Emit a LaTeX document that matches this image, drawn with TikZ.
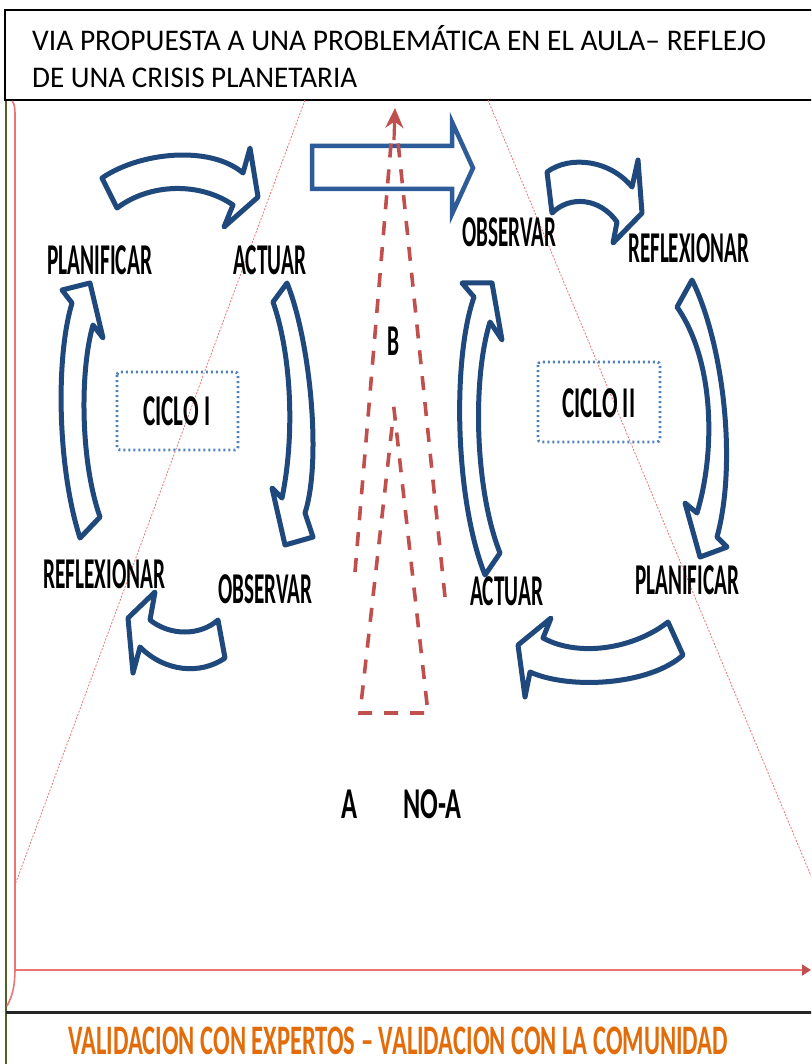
\documentclass[tikz,border=0pt]{standalone}
\usepackage{fontspec}
\setmainfont{Carlito}
\usetikzlibrary{calc,arrows.meta,shadows}
\definecolor{navy}{HTML}{1F497D}
\definecolor{midblue}{HTML}{2E5C99}
\definecolor{dotblue}{HTML}{4F81BD}
\definecolor{dred}{HTML}{C0504D}
\definecolor{lred}{HTML}{EE7575}
\definecolor{fgreen}{HTML}{4F6228}
\definecolor{orng}{HTML}{E36C0A}
\newsavebox\fitbox
\newlength\fitlen
\newcommand{\fitw}[2]{\sbox\fitbox{#2}\setlength\fitlen{\wd\fitbox}\pgfmathsetmacro\fitsx{#1/\fitlen}\scalebox{\fitsx}[1]{\usebox\fitbox}}
\begin{document}
\begin{tikzpicture}[x=1pt,y=1pt,
  blk/.style={draw=navy,line width=5pt,fill=white,line join=round,
    drop shadow={shadow xshift=1.5pt,shadow yshift=-2.5pt,opacity=0.3}},
  hblk/.style={draw=midblue,line width=4.5pt,fill=white,line join=miter},
  lbl/.style={inner sep=0pt,anchor=base west,font=\fontsize{44}{46}\selectfont\bfseries},
  hdr/.style={inner sep=0pt,anchor=base west,font=\fontsize{30}{36}\selectfont},
  bot/.style={inner sep=0pt,anchor=base west,text=orng,font=\fontsize{42}{44}\selectfont\bfseries},
  trap/.style={lred,line width=0.8pt,dash pattern=on 2pt off 1.5pt},
  rdash/.style={dred,line width=3.6pt,dash pattern=on 14pt off 12pt},
  cbox/.style={draw=dotblue,line width=2.8pt,dash pattern=on 2pt off 3pt,rounded corners=3pt},
  axisline/.style={lred,line width=1.6pt}]
\useasboundingbox (0,0) rectangle (811,-1064);
\clip (0,0) rectangle (811,-1064);
% frames
\draw[line width=2pt] (5,-10) rectangle (830,-100);
\draw[fgreen,line width=1.5pt] (6,-101) -- (6,-1070);
\draw[black!85,line width=3pt] (6,-1012) -- (830,-1012);
% axes
\draw[axisline] (12,-101) .. controls (15,-104) and (15,-109) .. (15,-118) -- (15,-968) .. controls (15,-990) and (11,-998) .. (7,-1006);
\coordinate (ax0) at (15,-970);
\coordinate (ax1) at (811,-970);
\draw[axisline,-{Triangle[length=9pt,width=11pt,color=dred]}] (ax0) -- (ax1);
% trapezoid
\coordinate (tl1) at (305,-100); \coordinate (tl2) at (15,-885);
\coordinate (tr1) at (488,-100); \coordinate (tr2) at (811,-876);
\draw[trap] (tl1) -- (tl2);
\draw[trap] (tr1) -- (tr2);
% header
\node[hdr] (h1) at (32,-51) {\fitw{734}{VIA PROPUESTA A UNA PROBLEMÁTICA EN EL AULA– REFLEJO}};
\node[hdr] (h2) at (32,-88) {\fitw{325}{DE UNA CRISIS PLANETARIA}};
% horizontal arrow
\draw[hblk] (312,-146) -- (452,-146) -- (452,-122) -- (473,-168) -- (452,-214) -- (452,-189) -- (312,-189) -- cycle;
% red dashed figure
\coordinate (apx) at (395,-108);
\coordinate (apb) at (394,-140);
\draw[rdash] (355,-572) -- (392,-132);
\draw[rdash] (445,-597) -- (397,-132);
\draw[dred,line width=3.2pt,-{Stealth[length=20pt,width=18pt]}] (apb) -- (apx);
\draw[rdash] (392,-427) -- (360,-713) -- (428,-713) -- (393,-400);
% cycle I arrows
\draw[blk] (102,-178) .. controls (140,-152) and (210,-145) .. (243,-173) -- (250,-148) -- (258,-197) -- (224,-227) -- (233,-205) .. controls (200,-182) and (150,-183) .. (117,-208) -- cycle;
\draw[blk] (287,-283) .. controls (310,-340) and (322,-460) .. (305,-513) -- (313,-537) -- (285,-545) -- (272,-488) -- (282,-498) .. controls (296,-430) and (290,-350) .. (273,-302) -- cycle;
\draw[blk] (225,-658) .. controls (200,-675) and (165,-672) .. (140,-647) -- (133,-673) -- (128,-618) -- (155,-592) -- (150,-620) .. controls (170,-636) and (200,-636) .. (218,-620) -- cycle;
\draw[blk] (80,-538) .. controls (58,-470) and (55,-360) .. (72,-303) -- (62,-290) -- (90,-283) -- (103,-338) -- (93,-325) .. controls (80,-370) and (80,-460) .. (100,-517) -- cycle;
% cycle II arrows
\draw[blk] (547,-172) .. controls (570,-155) and (610,-160) .. (632,-187) -- (638,-160) -- (642,-213) -- (613,-243) -- (617,-222) .. controls (600,-198) and (570,-195) .. (552,-213) -- cycle;
\draw[blk] (692,-280) .. controls (722,-340) and (738,-460) .. (717,-537) -- (727,-547) -- (700,-557) -- (685,-503) -- (697,-513) .. controls (716,-450) and (714,-360) .. (677,-307) -- cycle;
\draw[blk] (683,-655) .. controls (650,-685) and (570,-690) .. (530,-672) -- (525,-697) -- (518,-645) -- (551,-618) -- (543,-638) .. controls (580,-658) and (635,-648) .. (668,-622) -- cycle;
\draw[blk] (485,-575) .. controls (455,-500) and (452,-360) .. (474,-297) -- (462,-283) -- (492,-283) -- (502,-340) -- (490,-322) .. controls (472,-380) and (475,-490) .. (500,-553) -- cycle;
% cycle boxes
\draw[cbox] (117,-372) rectangle (238,-450);
\draw[cbox] (538,-362) rectangle (660,-442);
% labels
\node[lbl] (planI) at (47,-275) {\fitw{105}{PLANIFICAR}};
\node[lbl] (actI) at (233,-275) {\fitw{73}{ACTUAR}};
\node[lbl] (refI) at (43,-588) {\fitw{122}{REFLEXIONAR}};
\node[lbl] (obsI) at (218,-603) {\fitw{94}{OBSERVAR}};
\node[lbl] (obsII) at (462,-247) {\fitw{94}{OBSERVAR}};
\node[lbl] (refII) at (628,-263) {\fitw{121}{REFLEXIONAR}};
\node[lbl] (actII) at (470,-605) {\fitw{73}{ACTUAR}};
\node[lbl] (planII) at (635,-594) {\fitw{104}{PLANIFICAR}};
\node[lbl] (cicI) at (143,-425) {\fitw{67}{CICLO I}};
\node[lbl] (cicII) at (562,-417) {\fitw{73}{CICLO II}};
\node[lbl] (b) at (387,-355) {\fitw{12}{B}};
\node[lbl] (a) at (341,-818) {\fitw{16}{A}};
\node[lbl] (noa) at (403,-818) {\fitw{58}{NO-A}};
% bottom text
\node[bot] (val) at (68,-1054) {\fitw{660}{VALIDACION CON EXPERTOS – VALIDACION CON LA COMUNIDAD}};
\end{tikzpicture}
\end{document}
